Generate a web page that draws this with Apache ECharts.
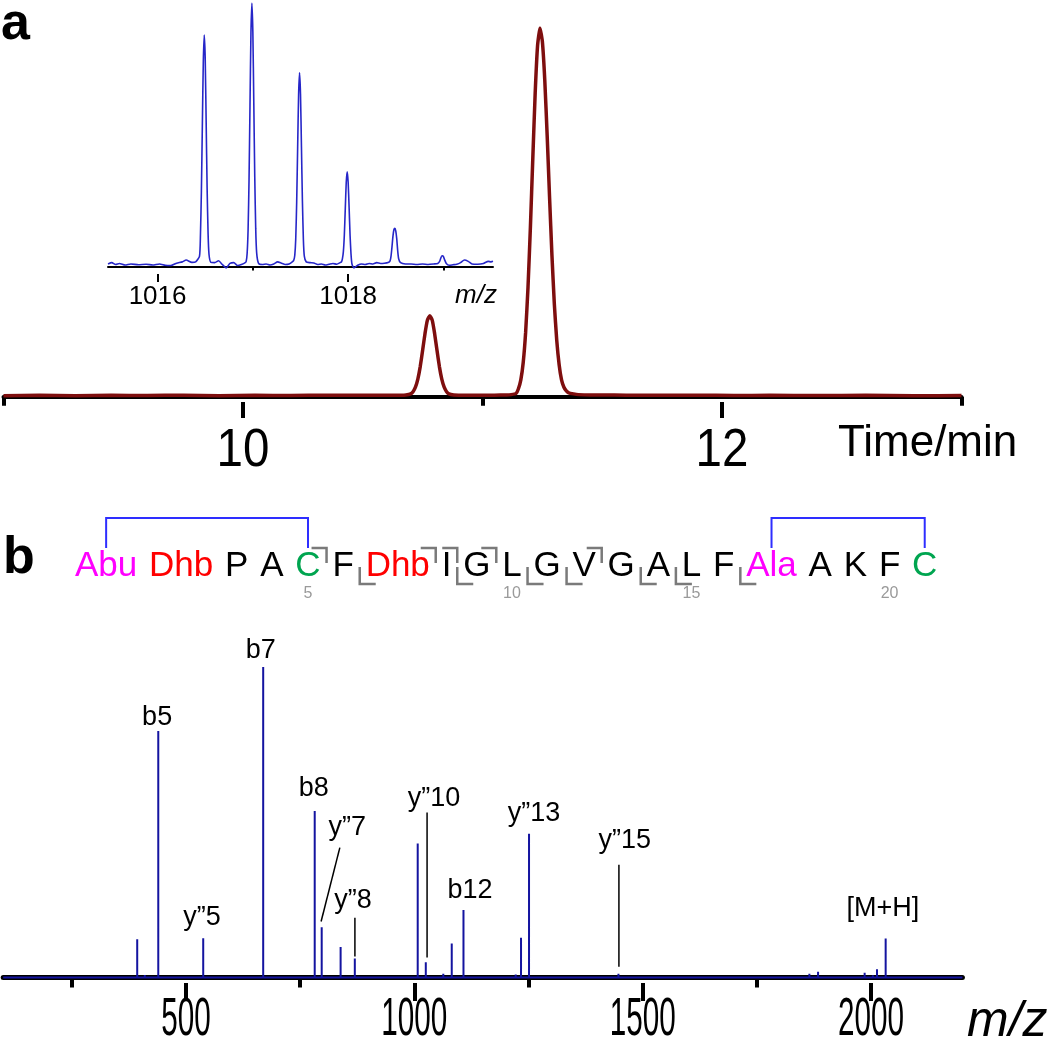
<!DOCTYPE html>
<html><head><meta charset="utf-8">
<script src="https://cdn.jsdelivr.net/npm/echarts@6/dist/echarts.min.js"></script>
<style>html,body{margin:0;padding:0;background:#fff}#c{width:1050px;height:1050px}</style>
</head><body><div id="c"></div>
<script>
const FONT = "'Liberation Sans', Arial, Helvetica, sans-serif";

// ---------- Panel a: chromatogram ----------
const chromTime = [9.00,9.15,9.30,9.45,9.60,9.75,9.90,10.05,10.20,10.35,10.50,10.60,10.66,10.68,10.70,10.71,10.72,10.73,10.74,10.75,10.76,10.77,10.78,10.79,10.80,10.81,10.82,10.83,10.84,10.85,10.86,10.88,10.90,10.95,11.00,11.05,11.10,11.12,11.14,11.15,11.16,11.17,11.18,11.19,11.20,11.21,11.22,11.23,11.24,11.25,11.26,11.27,11.28,11.29,11.30,11.31,11.32,11.33,11.34,11.35,11.36,11.38,11.40,11.45,11.50,11.60,11.75,11.90,12.05,12.20,12.40,12.60,12.80,13.00];
const chromSignal = [0.3,0.45,0.3,0.4,0.35,0.45,0.3,0.4,0.35,0.45,0.4,0.45,0.45,0.5,0.8,1.4,2.6,4.8,8.2,12.6,17.2,20.8,22.0,20.8,17.2,12.6,8.2,4.8,2.6,1.4,0.8,0.5,0.45,0.4,0.4,0.45,0.5,0.6,0.9,2.2,4.6,9.3,17.4,29.7,46.0,64.6,82.4,95.3,100,96.3,85.9,70.9,54.1,38.3,25.1,15.3,8.7,4.6,2.6,1.6,1.1,0.8,0.6,0.5,0.5,0.45,0.4,0.45,0.35,0.4,0.35,0.4,0.3,0.35];
const timeTickLabels = [10, 12];
const timeMinorTicks = [9, 11, 13];

// ---------- Inset: isotope pattern ----------
const insetMz = [1015.48,1015.52,1015.56,1015.60,1015.66,1015.72,1015.80,1015.88,1015.95,1016.02,1016.08,1016.14,1016.20,1016.26,1016.30,1016.36,1016.40,
 1016.44,1016.45,1016.46,1016.47,1016.48,1016.49,1016.50,1016.51,1016.52,1016.53,1016.54,1016.56,
 1016.60,1016.64,1016.68,1016.72,1016.76,1016.80,1016.84,1016.88,1016.92,
 1016.93,1016.94,1016.95,1016.96,1016.97,1016.98,1016.99,1017.00,1017.01,1017.02,1017.03,1017.04,1017.06,
 1017.10,1017.14,1017.18,1017.22,1017.26,1017.30,1017.34,1017.38,1017.42,
 1017.43,1017.44,1017.45,1017.46,1017.47,1017.48,1017.49,1017.50,1017.51,1017.52,1017.53,1017.54,1017.56,
 1017.60,1017.64,1017.68,1017.72,1017.76,1017.80,1017.84,1017.88,1017.92,
 1017.93,1017.94,1017.95,1017.96,1017.97,1017.98,1017.99,1018.00,1018.01,1018.02,1018.03,1018.04,1018.06,
 1018.10,1018.14,1018.18,1018.22,1018.26,1018.30,1018.34,1018.38,1018.42,
 1018.44,1018.45,1018.46,1018.47,1018.48,1018.49,1018.50,1018.51,1018.52,1018.53,1018.55,
 1018.60,1018.66,1018.72,1018.78,1018.84,1018.90,1018.94,
 1018.96,1018.97,1018.98,1018.99,1019.00,1019.01,1019.03,1019.06,
 1019.10,1019.14,1019.18,1019.22,1019.26,1019.30,1019.36,1019.42,1019.47,1019.50,1019.52];
const insetIntensity = [1.0,1.5,0.8,1.2,0.6,1.0,0.7,0.9,0.6,1.0,0.5,0.4,1.3,1.8,2.5,1.6,1.8,
 3.9,11.9,28.5,53.3,77.4,87.8,79.0,55.0,30.0,12.8,4.6,1.6,
 1.5,2.2,0.8,-0.5,1.2,1.5,0.4,0.8,1.5,
 2.0,5.0,14.0,33.0,61.0,88.5,100,89.0,62.0,34.0,14.5,5.2,1.2,
 0.8,1.0,0.6,1.0,1.8,1.3,0.8,1.0,2.0,
 2.5,4.3,10.5,24.5,45.0,65.0,73.5,65.5,45.5,25.0,10.5,4.0,1.8,
 1.5,1.4,0.8,1.0,0.6,0.9,1.2,0.9,1.6,
 1.8,3.0,5.8,12.0,22.0,32.0,36.0,32.0,22.5,12.0,4.8,1.0,-0.5,
 0.5,1.0,0.8,1.2,1.0,1.5,1.2,1.3,1.6,
 2.2,4.0,7.5,11.5,14.0,14.5,13.5,10.5,6.0,3.0,1.5,
 1.0,1.0,0.8,1.0,0.8,1.0,1.2,
 2.0,3.0,3.9,4.1,3.8,2.8,1.2,0.5,
 0.7,0.9,1.5,2.5,2.0,1.0,0.9,1.2,2.0,1.8,2.0];
const insetTickLabels = [1016, 1018];
const insetMinorTicks = [1017, 1019];

// ---------- Panel b: sequence ----------
const residues = ['Abu','Dhb','P','A','C','F','Dhb','I','G','L','G','V','G','A','L','F','Ala','A','K','F','C'];
const residueNumbers = [5, 10, 15, 20];
const bIonSites = [5, 7, 8, 9, 12];          // cleavage after residue
const yIonSites = [7, 9, 11, 12, 14, 15, 17]; // cleavage before residue
const thioetherBridges = [[1, 5], [17, 21]];

// ---------- Panel b: MS/MS spectrum ----------
const peakMz = [393.4,410,418,439.5,537.9,669.2,754,782,797.3,838.7,869.8,1007.5,1025.2,1063.5,1082,1107.7,1222,1233.7,1251.2,1429,1447,1477,1832,1865,1884,1986,2004,2013,2032];
const peakIntensity = [12.3,0.8,0.5,79.4,12.6,100,0.4,53.6,16.2,9.8,6.1,43.1,4.9,1.2,10.9,21.7,0.9,12.8,46.3,0.6,1.2,0.6,0.6,1.2,1.8,1.5,0.7,2.6,12.5];
const mzTickLabels = [500, 1000, 1500, 2000];
const mzMinorTicks = [250, 750, 1250, 1750];

// peak annotations (label anchor in data units) and leader lines
const peakLabels = ['b5','b7','b8','y\u201D7','y\u201D8','y\u201D5','y\u201D10','b12','y\u201D13','y\u201D15','[M+H]'];
const peakLabelMz = [437, 664, 780, 853, 866, 535, 1043, 1122, 1262, 1461, 2026];
const peakLabelIntensity = [83.7, 105.3, 61.0, 48.4, 24.9, 19.4, 57.7, 28.1, 52.9, 44.2, 22.1];
const leaderLines = [
  [[837, 41.8], [796, 18.0]],
  [[870, 19.2], [870, 6.7]],
  [[1028, 53.1], [1028, 6.4]],
  [[1448, 36.3], [1448, 3.4]]
];

// ---------- styles ----------
const residueColor = {Abu:'#ff00ff', Ala:'#ff00ff', Dhb:'#ff0000', C:'#00a550'};
const chromColor = '#7e0e0e';
const insetColor = '#2626c8';
const specColor = '#1414a0';

const chart = echarts.init(document.getElementById('c'), null, {renderer:'canvas'});

const chromData = chromTime.map((t,i)=>[t, chromSignal[i]]);
const insetData = insetMz.map((m,i)=>[m, insetIntensity[i]]);
const stickData = [[100,0]];
peakMz.forEach((m,i)=>{ stickData.push([m,0],[m,peakIntensity[i]],[m,0]); });
stickData.push([2200,0]);

function axisPair(grid, min, max, lineW, minorTicks, majorTicks, minorLen, majorLen, tickW, labelOpt){
  return [
    {type:'value', gridIndex:grid, min:min, max:max, position:'bottom',
     axisLine:{show:true, lineStyle:{color:'#000', width:lineW, cap:'round'}},
     axisTick:{show:true, customValues:minorTicks, length:minorLen, lineStyle:{color:'#000', width:tickW}},
     axisLabel:{show:false}, splitLine:{show:false}},
    {type:'value', gridIndex:grid, min:min, max:max, position:'bottom',
     axisLine:{show:false},
     axisTick:{show:true, customValues:majorTicks, length:majorLen, lineStyle:{color:'#000', width:tickW}},
     axisLabel:labelOpt, splitLine:{show:false}}
  ];
}

const xAxes = [].concat(
  axisPair(0, 9, 13, 4, timeMinorTicks, timeTickLabels, 9, 16, 4, {show:false}),
  axisPair(1, 1015.48, 1019.52, 2, insetMinorTicks, insetTickLabels, 4, 8, 2,
    {show:true, customValues:insetTickLabels, fontSize:26, color:'#000', fontFamily:FONT, margin:10,
     formatter:v=>String(v)}),
  axisPair(2, 100, 2200, 5, mzMinorTicks, mzTickLabels, 10, 18, 4, {show:false})
);

const option = {
  animation:false,
  backgroundColor:'#fff',
  grid:[
    {left:3.5, width:958, top:28, height:374},
    {left:108, width:385, top:3, height:271},
    {left:3.2, width:959.2, top:667, height:316}
  ],
  xAxis: xAxes,
  yAxis:[
    {type:'value', gridIndex:0, min:-1.4, max:100, show:false},
    {type:'value', gridIndex:1, min:-2.8, max:100, show:false},
    {type:'value', gridIndex:2, min:-1.8, max:100, show:false}
  ],
  series:[
    {type:'line', xAxisIndex:0, yAxisIndex:0, data:chromData, showSymbol:false, smooth:0.15,
     lineStyle:{color:chromColor, width:3.5}, z:3},
    {type:'line', xAxisIndex:2, yAxisIndex:1, data:insetData, showSymbol:false, smooth:0.2,
     lineStyle:{color:insetColor, width:1.6}, z:3},
    {type:'line', xAxisIndex:4, yAxisIndex:2, data:stickData, showSymbol:false,
     lineStyle:{color:specColor, width:2}, z:3}
  ]
};
chart.setOption(option);

// ---------- graphics ----------
const g = [];
function txt(text, x, y, size, opts){
  opts = opts || {};
  g.push({type:'text', x:x, y:y, z:10, scaleX:opts.scaleX||1, style:{text:text, fill:opts.fill||'#000',
    font:(opts.style||'normal')+' '+(opts.weight||'normal')+' '+size+'px '+FONT,
    align:opts.align||'center', verticalAlign:'middle'}});
}
function poly(points, color, w){
  g.push({type:'polyline', z:10, shape:{points:points}, style:{stroke:color, lineWidth:w, fill:null}});
}

// panel letters and axis names
txt('a', 1, 25, 52, {weight:'bold', align:'left'});
txt('b', 3, 559, 52, {weight:'bold', align:'left'});
txt('Time/min', 838, 444, 44, {align:'left'});
txt('m/z', 455, 296, 26, {style:'italic', align:'left'});
txt('m/z', 967, 1022, 50, {style:'italic', align:'left'});

// condensed tick labels of the main axes, placed through the axis scales
timeTickLabels.forEach(v=>{
  const p = chart.convertToPixel({seriesIndex:0}, [v, 0]);
  txt(String(v), p[0], 451, 54, {scaleX:0.88});
});
mzTickLabels.forEach(v=>{
  const p = chart.convertToPixel({seriesIndex:2}, [v, 0]);
  txt(String(v), p[0], 1020, 54, {scaleX:0.55});
});

// sequence layout
const seqSize = 35;
const cv = document.createElement('canvas').getContext('2d');
cv.font = seqSize + 'px ' + FONT;
const seqGap = 11.8;
let cx = 75;
const boxes = residues.map(r=>{
  const w = cv.measureText(r).width;
  const b = {left:cx, right:cx+w, center:cx+w/2};
  cx += w + seqGap; return b;
});
const seqBaseY = 566;
residues.forEach((r,i)=>{
  txt(r, boxes[i].center, seqBaseY, seqSize, {fill:residueColor[r]||'#000'});
});
residueNumbers.forEach(n=>{
  txt(String(n), boxes[n-1].center, 594, 16, {fill:'#9a9a9a'});
});
bIonSites.forEach(n=>{
  const gx = (boxes[n-1].right + boxes[n].left)/2;
  poly([[gx-15,548],[gx,548],[gx,563]], '#7a7a7a', 2.5);
});
yIonSites.forEach(n=>{
  const gx = (boxes[n-2].right + boxes[n-1].left)/2;
  poly([[gx,567],[gx,584],[gx+16,584]], '#7a7a7a', 2.5);
});
thioetherBridges.forEach(([a,b])=>{
  const x1 = boxes[a-1].center, x2 = boxes[b-1].center;
  poly([[x1,548],[x1,518],[x2,518],[x2,548]], '#2e2eff', 2);
});

// spectrum annotations
const toPx = p => chart.convertToPixel({seriesIndex:2}, p);
peakLabels.forEach((t,i)=>{
  const p = toPx([peakLabelMz[i], peakLabelIntensity[i]]);
  txt(t, p[0], p[1], 27);
});
leaderLines.forEach(l=>{
  poly([toPx(l[0]), toPx(l[1])], '#000', 1.5);
});

chart.setOption({graphic:{elements:g}});
</script></body></html>
